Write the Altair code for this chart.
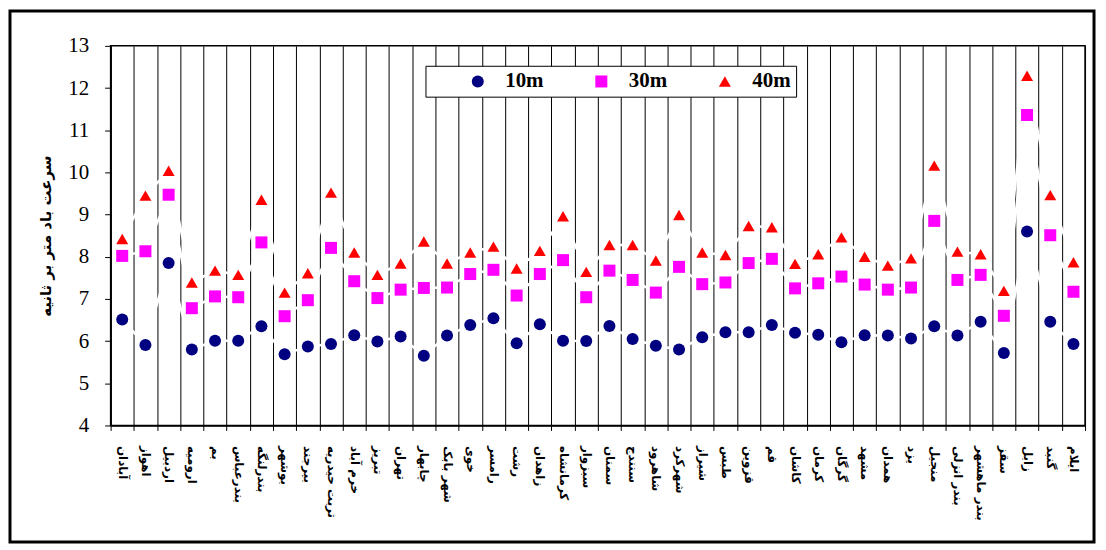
import altair as alt
import pandas as pd

stations = [
    "آبادان", "اهواز", "اردبیل", "ارومیه", "بم", "بندرعباس", "بندرلنگه",
    "بوشهر", "بیرجند", "تربت حیدریه", "خرم آباد", "تبریز", "تهران", "چابهار",
    "شهر بابک", "خوی", "رامسر", "رشت", "زاهدان", "کرمانشاه", "سبزوار",
    "سمنان", "سنندج", "شاهرود", "شهرکرد", "شیراز", "طبس", "قزوین",
    "قم", "کاشان", "کرمان", "گرگان", "مشهد", "همدان", "یزد",
    "منجیل", "بندر انزلی", "بندر ماهشهر", "سقز", "زابل", "گنبد", "ایلام",
]

v10 = [6.51, 5.91, 7.85, 5.80, 6.01, 6.01, 6.35, 5.69, 5.87, 5.93, 6.14, 5.99,
       6.11, 5.65, 6.13, 6.38, 6.54, 5.95, 6.40, 6.01, 6.00, 6.36, 6.05, 5.89,
       5.80, 6.09, 6.21, 6.21, 6.38, 6.20, 6.15, 5.97, 6.14, 6.13, 6.06, 6.35,
       6.13, 6.46, 5.72, 8.60, 6.46, 5.93]
v30 = [8.02, 8.13, 9.47, 6.78, 7.06, 7.04, 8.34, 6.59, 6.97, 8.21, 7.42, 7.02,
       7.22, 7.26, 7.27, 7.59, 7.69, 7.08, 7.59, 7.92, 7.04, 7.67, 7.45, 7.15,
       7.76, 7.35, 7.39, 7.85, 7.95, 7.25, 7.37, 7.53, 7.34, 7.22, 7.27, 8.85,
       7.45, 7.57, 6.60, 11.36, 8.51, 7.17]
v40 = [8.42, 9.45, 10.04, 7.39, 7.67, 7.57, 9.35, 7.15, 7.61, 9.52, 8.10, 7.57,
       7.84, 8.36, 7.84, 8.10, 8.24, 7.72, 8.14, 8.96, 7.64, 8.28, 8.28, 7.91,
       8.99, 8.10, 8.04, 8.73, 8.70, 7.83, 8.06, 8.46, 8.00, 7.79, 7.96, 10.16,
       8.12, 8.06, 7.19, 12.29, 9.46, 7.87]

heights = ["10m", "30m", "40m"]
colors = ["#000080", "#FF00FF", "#FF0000"]
shapes = ["circle", "square", "triangle-up"]
y_title = "سرعت باد متر بر ثانیه"

rows = []
for h, vals in zip(heights, [v10, v30, v40]):
    for i, (s, v) in enumerate(zip(stations, vals)):
        rows.append({"station": s, "idx": i, "height": h, "speed": v})
df = pd.DataFrame(rows)

x_enc = alt.X(
    "station:N",
    sort=stations,
    scale=alt.Scale(paddingInner=0, paddingOuter=0),
    axis=alt.Axis(
        title=None, labelAngle=90, tickBand="extent", grid=True,
        gridColor="black", gridWidth=1, gridOpacity=1,
        tickColor="black", tickSize=5, domainColor="black", domainWidth=1.5,
        labelFont="DejaVu Sans", labelFontSize=12, labelFontWeight="bold",
        labelColor="black", labelPadding=15, labelLimit=200,
    ),
)
y_enc = alt.Y(
    "speed:Q",
    scale=alt.Scale(domain=[4, 13], nice=False, zero=False),
    axis=alt.Axis(
        values=list(range(4, 14)), grid=False, title=y_title,
        titleFont="DejaVu Sans", titleFontSize=15, titleFontWeight="bold",
        titleColor="black", titlePadding=14,
        labelFont="Liberation Serif", labelFontSize=21, labelColor="black",
        labelPadding=16, tickSize=6, tickColor="black",
        domainColor="black", domainWidth=1.5,
    ),
)

base = alt.Chart(df)

lines = base.mark_line(color="white", strokeWidth=2.5).encode(
    x=x_enc, y=y_enc, detail="height:N", order="idx:Q"
)

points = base.mark_point(filled=True, size=145, opacity=1).encode(
    x=x_enc,
    y=y_enc,
    color=alt.Color("height:N", scale=alt.Scale(domain=heights, range=colors),
                    legend=alt.Legend(title=None)),
    shape=alt.Shape("height:N", scale=alt.Scale(domain=heights, range=shapes),
                    legend=alt.Legend(title=None)),
)

frame = alt.Chart(pd.DataFrame({"a": [0]})).mark_rect(
    fill=None, stroke="black", strokeWidth=3
).encode(
    x=alt.value(-101), x2=alt.value(987), y=alt.value(-35), y2=alt.value(498)
)

chart = (
    alt.layer(lines, points, frame)
    .properties(
        width=978, height=381,
        padding={"left": 103, "top": 37, "right": 13, "bottom": 120},
        autosize=alt.AutoSizeParams(type="none"),
    )
    .configure_view(stroke="black", strokeWidth=1.5)
    .configure_legend(
        orient="none", legendX=316, legendY=20, direction="horizontal",
        strokeColor="black", fillColor="white", padding=5,
        labelFont="Liberation Serif", labelFontSize=21, labelFontWeight="bold",
        labelColor="black", symbolSize=145, symbolStrokeWidth=0,
        columnPadding=10, labelOffset=17, symbolOffset=37,
        cornerRadius=0,
    )
)

chart.save("out.html", embed_options={"renderer": "svg", "actions": False})
